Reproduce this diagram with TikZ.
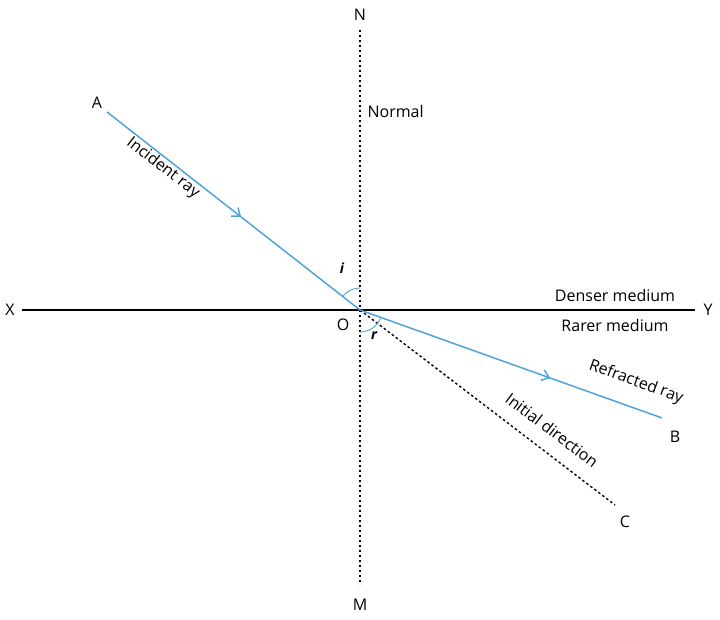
\documentclass[tikz,border=0pt]{standalone}
\usepackage{fontspec}
\setmainfont{Open Sans}
\usetikzlibrary{decorations.markings,arrows.meta}
\definecolor{raycol}{RGB}{79,163,217}
\tikzset{
  ray/.style={raycol,line width=1.5pt},
  midarrow/.style={postaction={decorate},decoration={markings,
    mark=at position #1 with {\arrow[raycol,line width=1.5pt]{Straight Barb[length=7pt,width=11pt]}}}},
  lbl/.style={font=\fontsize{16}{19}\selectfont},
}
\begin{document}
\begin{tikzpicture}[x=1pt,y=1pt]
\useasboundingbox (0,0) rectangle (720,620);
% points
\coordinate (O) at (360,310);
\coordinate (A) at (107,508);
\coordinate (B) at (662,202);
\coordinate (C) at (615,115);
\coordinate (N) at (360,590);
\coordinate (M) at (360,35);
\coordinate (X) at (22,310);
\coordinate (Y) at (695,310);
% lines
\draw[line width=1.3pt] (X) -- (Y);
\draw[line width=1.4pt,dash pattern=on 2.5pt off 2.5pt] (N) -- (M);
\draw[line width=1.4pt,dash pattern=on 2.5pt off 2.5pt] (O) -- (C);
\draw[ray,midarrow=0.53] (A) -- (O);
\draw[ray,midarrow=0.63] (O) -- (B);
% angles
\draw[raycol,line width=0.9pt] (360,332) arc(90:142:22);
\draw[raycol,line width=0.9pt] (360,288) arc(-90:-20:22);
% labels
\node[lbl] (lN) at (360,605) {N};
\node[lbl] (lM) at (360,15) {M};
\node[lbl] (lX) at (10,310) {X};
\node[lbl] (lY) at (708,310) {Y};
\node[lbl] (lA) at (97,517) {A};
\node[lbl] (lB) at (675,183) {B};
\node[lbl] (lC) at (625,98) {C};
\node[lbl] (lO) at (343,295) {O};
\node[lbl,font=\fontsize{14}{16}\selectfont\itshape\bfseries] (li) at (342,352) {i};
\node[lbl,font=\fontsize{14}{16}\selectfont\itshape\bfseries] (lr) at (374,284) {r};
\node[lbl,anchor=west] (lnormal) at (364,508) {Normal};
\node[lbl] (ldense) at (615,324) {Denser medium};
\node[lbl] (lrare) at (615,294) {Rarer medium};
\node[lbl,rotate=-38] (linc) at (163,452) {Incident ray};
\node[lbl,rotate=-20] (lref) at (636,238) {Refracted ray};
\node[lbl,rotate=-37] (linit) at (552,190) {Initial direction};
\end{tikzpicture}
\end{document}
